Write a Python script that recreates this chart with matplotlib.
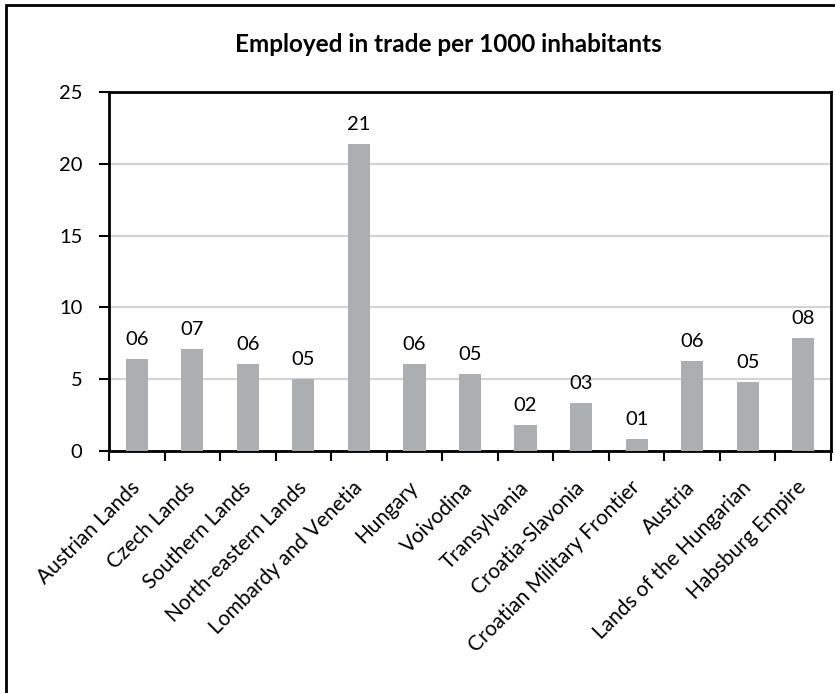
import matplotlib
matplotlib.use("Agg")
import matplotlib.pyplot as plt
from matplotlib.patches import Rectangle
import numpy as np

plt.rcParams['font.family'] = ['Lato', 'DejaVu Sans']

regions = ['Austrian Lands', 'Czech Lands', 'Southern Lands', 'North-eastern Lands',
           'Lombardy and Venetia', 'Hungary', 'Voivodina', 'Transylvania',
           'Croatia-Slavonia', 'Croatian Military Frontier', 'Austria',
           'Lands of the Hungarian', 'Habsburg Empire']
employed = [6.43, 7.08, 6.04, 4.99, 21.38, 6.06, 5.36, 1.81, 3.32, 0.84, 6.27, 4.83, 7.85]
yticks = [0, 5, 10, 15, 20, 25]

fig = plt.figure(figsize=(8.35, 6.93), dpi=100)
ax = fig.add_axes([109/835, 1 - 451/693, (831 - 109)/835, (451 - 92)/693])

x = np.arange(len(regions))
ax.bar(x, employed, width=0.4, color='#abafb2', zorder=3)

for xi, v in zip(x, employed):
    ax.annotate(f"{v:02.0f}", (xi, v), xytext=(0, 8), textcoords='offset points',
                ha='center', va='bottom', fontsize=14.5)

ax.set_xlim(-0.5, len(regions) - 0.5)
ax.set_ylim(0, 25)
ax.set_yticks(yticks)
ax.tick_params(axis='y', labelsize=14.5, direction='out', length=7, width=1.5, pad=12)
ax.yaxis.grid(True, color='#d4d4d4', linewidth=1.6, zorder=0)
ax.set_axisbelow(True)

# x ticks sit between the categories, labels at the category centres
ax.set_xticks(np.arange(-0.5, len(regions), 1.0))
ax.set_xticklabels([])
ax.tick_params(axis='x', direction='out', length=7, width=1.5)
ax.set_xticks(x, minor=True)
ax.set_xticklabels(regions, minor=True, rotation=45, ha='right', va='center',
                   rotation_mode='anchor', fontsize=15)
ax.tick_params(axis='x', which='minor', length=0, pad=24)

for s in ax.spines.values():
    s.set_linewidth(2)
    s.set_color('black')

fig.text(448/835, 1 - 45/693, 'Employed in trade per 1000 inhabitants',
         ha='center', va='center', fontsize=17.5, fontweight='bold')

# chart frame, runs off the right and bottom edges
fig.patches.append(Rectangle((6/835, -0.1), 1.2, 1 - 5/693 + 0.1,
                             transform=fig.transFigure, fill=False,
                             edgecolor='black', linewidth=2))

fig.savefig('out.png', dpi=100)
